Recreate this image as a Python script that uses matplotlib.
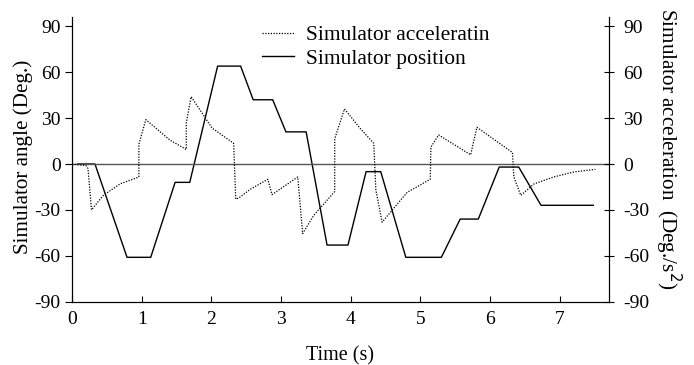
import matplotlib
matplotlib.use("Agg")
import matplotlib.pyplot as plt

plt.rcParams['font.family'] = ['Liberation Serif', 'DejaVu Serif']
plt.rcParams['axes.unicode_minus'] = False

# Simulator position (deg) - solid line
pos_t = [0.08, 0.33, 0.79, 1.13, 1.48, 1.69, 2.09, 2.42, 2.60, 2.88, 3.07, 3.36,
         3.66, 3.96, 4.22, 4.43, 4.79, 5.30, 5.57, 5.83, 6.13, 6.41, 6.73, 7.48]
pos_y = [0, 0, -61, -61, -12, -12, 64, 64, 42, 42, 21, 21,
         -53, -53, -5, -5, -61, -61, -36, -36, -2, -2, -27, -27]

# Simulator acceleration (deg/s^2) - dotted line
acc_t = [0.0, 0.2, 0.23, 0.28, 0.45, 0.69, 0.96, 0.96, 1.06, 1.41, 1.64, 1.64, 1.71,
         2.01, 2.32, 2.35, 2.40, 2.56, 2.81, 2.87, 3.24, 3.31, 3.47, 3.77, 3.77, 3.91,
         4.14, 4.33, 4.36, 4.45, 4.81, 5.14, 5.15, 5.26, 5.72, 5.72, 5.81, 6.32, 6.34,
         6.44, 6.63, 6.91, 7.20, 7.51]
acc_y = [0, -1, -3, -30, -20.5, -13, -8.5, 13, 29, 15.5, 9.5, 27, 44,
         23.5, 13.5, -23, -22, -16.5, -10, -20, -8.5, -45.5, -33.5, -18, 16.5, 36,
         23, 13.5, -17, -38, -18.5, -10, 11, 19, 6, 6, 24, 7.5, -8.5,
         -20.5, -13, -8.5, -5.2, -3.5]

fig = plt.figure(figsize=(6.94, 3.65), dpi=100)
ax = fig.add_axes([0.1037, 0.1735, 0.7733, 0.7795])
ax2 = ax.twinx()

ax.plot(pos_t, pos_y, color='black', linewidth=1.0, label='Simulator position')
ax2.plot(acc_t, acc_y, color='black', linewidth=0.9, linestyle=(0, (1, 1.2)),
         label='Simulator acceleratin')
ax.axhline(0, color='#555555', linewidth=1.0)

for a in (ax, ax2):
    a.set_xlim(0, 7.7)
    a.set_ylim(-90, 96)
    a.set_yticks([-90, -60, -30, 0, 30, 60, 90])
    a.spines['top'].set_visible(False)

ax.tick_params(axis='y', direction='out', length=5, labelsize=14, pad=3)
ax2.tick_params(axis='y', direction='inout', length=7, labelsize=14, pad=7)

ax.set_xticks(range(8))
ax.tick_params(axis='x', direction='in', length=4, labelsize=14, pad=7)

ax.set_xlabel('Time (s)', fontsize=14.5, labelpad=13)
ax.set_ylabel('Simulator angle (Deg.)', fontsize=15.2)
ax.yaxis.set_label_coords(-0.072, 0.51)
ax2.set_ylabel('Simulator acceleration  (Deg./s$^2$)', fontsize=15.2, rotation=270,
               va='center')
ax2.yaxis.set_label_coords(1.11, 0.538)

h1, l1 = ax2.get_legend_handles_labels()
h2, l2 = ax.get_legend_handles_labels()
ax.legend(h1 + h2, l1 + l2, loc='upper left', bbox_to_anchor=(0.3175, 1.04), frameon=False,
          fontsize=15.5, handlelength=1.5, handletextpad=0.55, labelspacing=0.15)

fig.savefig('out.png', dpi=100)
